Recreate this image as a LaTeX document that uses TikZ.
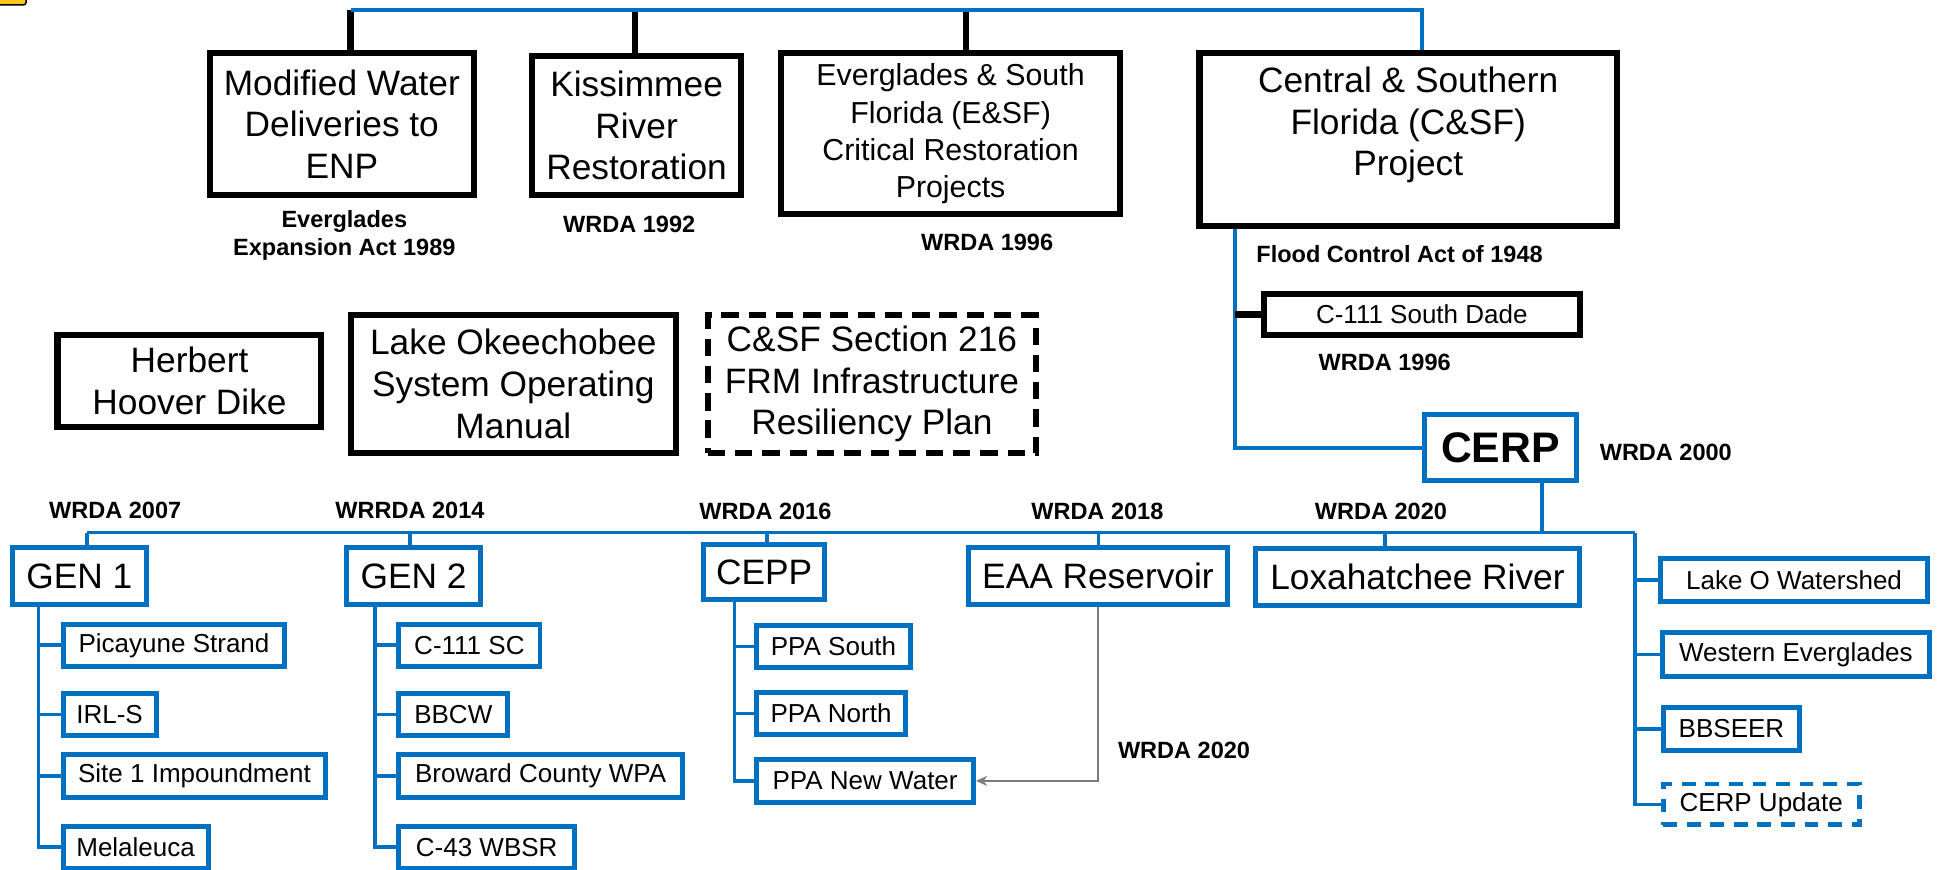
\documentclass[tikz,border=0pt]{standalone}
\usepackage{fontspec}
\setmainfont{Liberation Sans}
\usetikzlibrary{arrows.meta}
\definecolor{cblue}{HTML}{0070C0}
\definecolor{agray}{RGB}{128,122,118}
\definecolor{iconyellow}{RGB}{250,200,20}
\begin{document}
\begin{tikzpicture}[x=1pt,y=-1pt,
 bbox/.style={draw=black, line width=5pt, fill=white, align=center, inner sep=0pt},
 blbox/.style={draw=cblue, line width=4pt, fill=white, align=center, inner sep=0pt},
 sz/.style 2 args={minimum width=#1pt, minimum height=#2pt},
 tbig/.style={font=\fontsize{28.5}{33.6}\selectfont},
 tmed/.style={font=\fontsize{24.5}{30}\selectfont},
 tsml/.style={font=\fontsize{21}{25}\selectfont},
 tlab/.style={font=\bfseries\fontsize{19}{23}\selectfont, align=center, inner sep=0pt},
 bline/.style={draw=black, line width=5pt},
 cline/.style={draw=cblue, line width=3pt},
 bdash/.style={dash pattern=on 14pt off 8pt},
 cdash/.style={dash pattern=on 11pt off 8pt},
]
\useasboundingbox (0,0) rectangle (1568,702);
\fill[white] (0,0) rectangle (1568,702);

% cropped icon in the corner
\draw[fill=iconyellow, draw=black, line width=1.2pt, rounded corners=2pt] (-20,-12) rectangle (21,4);

% ---------- coordinates for bus lines ----------
\coordinate (tl) at (283,8);
\coordinate (tk) at (513,8);
\coordinate (te) at (780,8);
\coordinate (tr) at (1148,8);
\coordinate (cvx) at (997,0);
\coordinate (cd) at (1245,0);
\coordinate (busL) at (70,430);
\coordinate (d2) at (331,430);
\coordinate (d3) at (619,430);
\coordinate (d4) at (887,430);
\coordinate (d5) at (1118,430);
\coordinate (busR) at (1320,430);
\coordinate (g1t) at (31,0);
\coordinate (g2t) at (303,0);
\coordinate (g3t) at (593,0);

% ---------- top boxes ----------
\node[bbox,tbig,sz={213}{115}] (mwd) at (276,100) {Modified Water\\Deliveries to\\ENP};
\node[bbox,tbig,sz={169}{112}] (krr) at (514,101.5) {Kissimmee\\River\\Restoration};
\node[bbox,tmed,sz={274}{130}] (esf) at (767.5,108) {Everglades \& South\\Florida (E\&SF)\\Critical Restoration\\Projects};
\node[bbox,sz={337}{140}] (csf) at (1137,112.5) {};
\node[tbig,align=center,inner sep=0pt] (csft) at (1137,101) {Central \& Southern\\Florida (C\&SF)\\Project};

% connectors at top
\draw[bline] (tl) -- (tl |- mwd.north);
\draw[bline] (tk) -- (tk |- krr.north);
\draw[bline] (te) -- (te |- esf.north);
\draw[cline] (tl) -- (tr) -- (tr |- csf.north);

% C&SF branch
\node[bbox,tsml,line width=4.5pt,sz={255}{33}] (c111) at (1148,254) {C-111 South Dade};
\node[blbox,sz={123}{53},font=\bfseries\fontsize{34.5}{40}\selectfont] (cerp) at (1211.5,361.5) {CERP};
\draw[cline] (csf.south -| cvx) |- (cerp.west);
\draw[bline] (c111.west -| cvx) -- (c111.west);

% labels top
\node[tlab] (l89) at (278,190) {Everglades\\Expansion Act 1989};
\node[tlab] (l92) at (508,181) {WRDA 1992};
\node[tlab] (l96) at (797,196) {WRDA 1996};
\node[tlab] (l48) at (1130,205) {Flood Control Act of 1948};
\node[tlab] (l96b) at (1118,293) {WRDA 1996};
\node[tlab] (l00) at (1345,365) {WRDA 2000};

% middle boxes
\node[bbox,tbig,sz={213}{74}] (hhd) at (153,307.5) {Herbert\\Hoover Dike};
\node[bbox,tbig,sz={262}{111}] (lok) at (414.5,310) {Lake Okeechobee\\System Operating\\Manual};
\node[bbox,bdash,tbig,sz={265}{111}] (s216) at (704,310) {C\&SF Section 216\\FRM Infrastructure\\Resiliency Plan};

% ---------- bottom bus ----------
\draw[cline] (cerp.south -| cd) -- (cd |- busL);
\draw[cline] (busL) -- (busR);

% GEN 1
\node[blbox,tbig,sz={108}{46}] (gen1) at (64,465) {GEN 1};
\node[blbox,tsml,sz={179}{34}] (pic) at (140.5,521) {Picayune Strand};
\node[blbox,tsml,sz={75}{34}] (irl) at (88.5,577) {IRL-S};
\node[blbox,tsml,sz={212}{35}] (site1) at (157,626.5) {Site 1 Impoundment};
\node[blbox,tsml,sz={117}{34}] (mel) at (109.5,684) {Melaleuca};
\draw[cline] (busL) -- (busL |- gen1.north);
\draw[cline] (gen1.south -| g1t) |- (mel.west);
\draw[cline] (g1t |- pic.west) -- (pic.west);
\draw[cline] (g1t |- irl.west) -- (irl.west);
\draw[cline] (g1t |- site1.west) -- (site1.west);

% GEN 2
\node[blbox,tbig,sz={108}{46}] (gen2) at (334,465) {GEN 2};
\node[blbox,tsml,sz={114}{34}] (c111sc) at (379,521) {C-111 SC};
\node[blbox,tsml,sz={88}{34}] (bbcw) at (366,577) {BBCW};
\node[blbox,tsml,sz={229}{35}] (bcw) at (436.5,626.5) {Broward County WPA};
\node[blbox,tsml,sz={142}{34}] (c43) at (393,684) {C-43 WBSR};
\draw[cline] (d2) -- (d2 |- gen2.north);
\draw[cline] (gen2.south -| g2t) |- (c43.west);
\draw[cline] (g2t |- c111sc.west) -- (c111sc.west);
\draw[cline] (g2t |- bbcw.west) -- (bbcw.west);
\draw[cline] (g2t |- bcw.west) -- (bcw.west);

% CEPP
\node[blbox,tbig,sz={98}{44}] (cepp) at (617,462) {CEPP};
\node[blbox,tsml,sz={124}{34}] (ppas) at (673,522) {PPA South};
\node[blbox,tsml,sz={120}{34}] (ppan) at (671,576) {PPA North};
\node[blbox,tsml,sz={175}{35}] (ppanw) at (698.5,630.5) {PPA New Water};
\draw[cline] (d3) -- (d3 |- cepp.north);
\draw[cline] (cepp.south -| g3t) |- (ppanw.west);
\draw[cline] (g3t |- ppas.west) -- (ppas.west);
\draw[cline] (g3t |- ppan.west) -- (ppan.west);

% EAA and Loxahatchee
\node[blbox,tbig,sz={209}{46}] (eaa) at (886.5,465) {EAA Reservoir};
\node[blbox,tbig,sz={261}{46}] (lox) at (1144.5,466) {Loxahatchee River};
\draw[cline] (d4) -- (d4 |- eaa.north);
\draw[cline] (d5) -- (d5 |- lox.north);
\draw[agray, line width=1.3pt, -{Stealth[length=9pt,width=8pt]}] (eaa.south) |- (ppanw.east);

% right list
\node[blbox,tsml,sz={215}{35}] (lakeo) at (1448.5,468.5) {Lake O Watershed};
\node[blbox,tsml,sz={216}{35}] (wev) at (1450,528.5) {Western Everglades};
\node[blbox,tsml,sz={110}{35}] (bbseer) at (1398,588.5) {BBSEER};
\node[blbox,cdash,tsml,sz={158}{33}] (cerpu) at (1422,649.5) {CERP Update};
\draw[cline] (busR) |- (cerpu.west);
\draw[cline] (busR |- lakeo.west) -- (lakeo.west);
\draw[cline] (busR |- wev.west) -- (wev.west);
\draw[cline] (busR |- bbseer.west) -- (bbseer.west);

% bottom labels
\node[tlab] (l07) at (93,412) {WRDA 2007};
\node[tlab] (l14) at (331,412) {WRRDA 2014};
\node[tlab] (l16) at (618,413) {WRDA 2016};
\node[tlab] (l18) at (886,413) {WRDA 2018};
\node[tlab] (l20) at (1115,413) {WRDA 2020};
\node[tlab] (l20b) at (956,606) {WRDA 2020};
\end{tikzpicture}
\end{document}
